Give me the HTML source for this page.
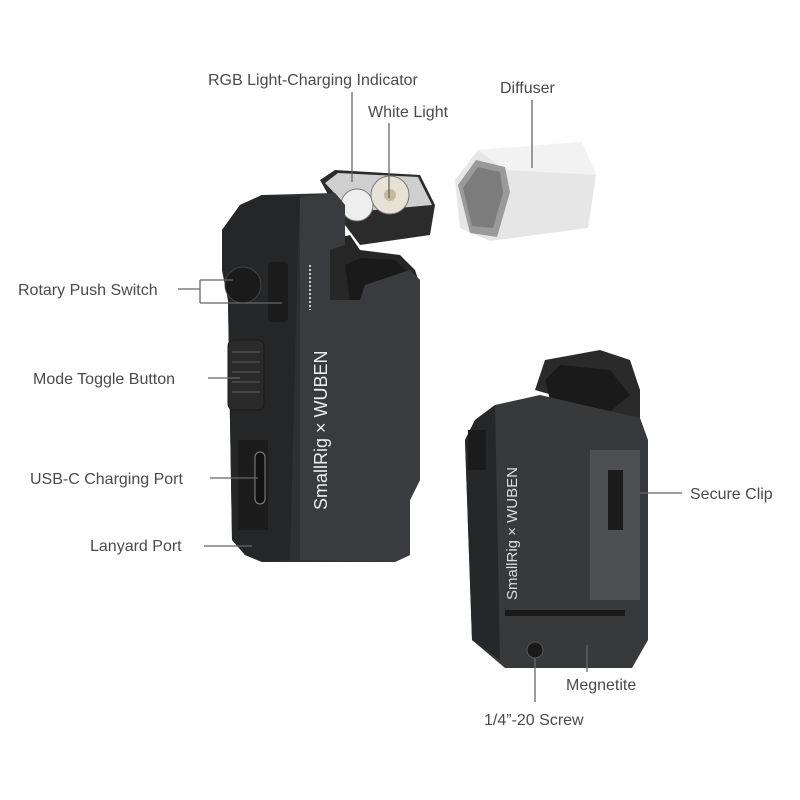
<!DOCTYPE html>
<html><head><meta charset="utf-8"><style>
body{margin:0;background:#fff;width:800px;height:800px;overflow:hidden}
svg{display:block}
text{font-family:"Liberation Sans",sans-serif;font-size:16px;fill:#4a4a4a}
</style></head><body>
<svg width="800" height="800" viewBox="0 0 800 800" xmlns="http://www.w3.org/2000/svg">
<rect width="800" height="800" fill="#fff"/>
<!-- Diffuser -->
<polygon points="455,180 478,150 582,142 596,175 588,228 490,241 460,228" fill="#e6e6e6"/>
<polygon points="478,150 582,142 596,175 505,170" fill="#f2f2f2"/>
<polygon points="458,185 476,160 505,167 510,192 497,237 470,233" fill="#9a9a9a"/>
<polygon points="463,188 478,167 500,172 503,193 493,228 472,226" fill="#7c7c7c"/>
<!-- Left device hinge area -->
<polygon points="330,240 350,235 360,250 400,255 415,270 420,285 365,290 360,300 330,300" fill="#262627"/>
<polygon points="345,265 360,258 395,260 410,275 410,300 350,300" fill="#1a1a1a"/>
<!-- Left device light head -->
<polygon points="320,180 335,170 420,175 435,205 430,235 360,245 345,225" fill="#2b2b2b"/>
<polygon points="325,183 338,173 418,177 432,205 352,212" fill="#cfcfcf"/>
<circle cx="357" cy="205" r="16" fill="#eee" stroke="#777"/>
<circle cx="390" cy="195" r="19" fill="#e8e2d6" stroke="#777"/>
<circle cx="390" cy="195" r="6" fill="#c9b79a"/>
<!-- Left device body -->
<polygon points="240,205 262,195 335,193 345,205 345,245 330,250 330,300 360,300 365,285 410,270 420,280 420,480 410,500 410,555 395,562 262,562 245,555 232,540 228,300 222,270 222,230" fill="#2f3032"/>
<polygon points="222,230 240,205 262,195 300,197 298,250 290,560 262,562 245,555 232,540 228,300 222,270" fill="#252628"/>
<polygon points="300,197 335,193 345,205 345,245 330,250 330,300 360,300 365,285 410,270 420,280 420,480 410,500 410,555 395,562 300,560" fill="#3a3b3e"/>
<circle cx="243" cy="285" r="18" fill="#1a1a1b" stroke="#444"/>
<rect x="268" y="262" width="20" height="60" rx="3" fill="#1b1b1c"/>
<rect x="228" y="340" width="36" height="70" rx="6" fill="#2a2a2b" stroke="#1a1a1a"/>
<g stroke="#444" stroke-width="2"><line x1="232" y1="352" x2="260" y2="352"/><line x1="232" y1="362" x2="260" y2="362"/><line x1="232" y1="372" x2="260" y2="372"/><line x1="232" y1="382" x2="260" y2="382"/><line x1="232" y1="392" x2="260" y2="392"/></g>
<rect x="238" y="440" width="30" height="90" fill="#1c1c1d"/>
<rect x="255" y="452" width="10" height="52" rx="5" fill="#111" stroke="#888"/>
<line x1="310" y1="265" x2="310" y2="310" stroke="#ccc" stroke-width="2" stroke-dasharray="2,2"/>
<text transform="translate(327,510) rotate(-90)" style="font-size:18px;fill:#eee">SmallRig × WUBEN</text>
<!-- Right device -->
<polygon points="535,390 545,360 600,350 630,360 640,390 640,420" fill="#2a2a2b"/>
<polygon points="545,380 560,365 610,370 630,395 600,420 555,420" fill="#1a1a1b"/>
<polygon points="475,420 495,405 540,395 640,418 648,440 648,640 632,668 505,668 472,640 465,440" fill="#38393b"/>
<polygon points="465,440 475,420 495,405 500,660 472,640" fill="#262728"/>
<rect x="590" y="450" width="50" height="150" fill="#4e4f52"/>
<rect x="608" y="470" width="15" height="60" fill="#1c1c1d"/>
<rect x="505" y="610" width="120" height="6" fill="#1a1a1a"/>
<rect x="468" y="430" width="18" height="40" fill="#1b1b1c"/>
<circle cx="535" cy="650" r="8" fill="#1a1a1a" stroke="#555"/>
<text transform="translate(517,600) rotate(-90)" style="font-size:15px;fill:#ddd">SmallRig × WUBEN</text>
<!-- Callout lines -->
<g stroke="#666" stroke-width="1.3" fill="none">
<line x1="352" y1="92" x2="352" y2="182"/>
<line x1="389" y1="123" x2="389" y2="198"/>
<line x1="532" y1="100" x2="532" y2="168"/>
<polyline points="178,289 200,289"/>
<line x1="200" y1="280" x2="200" y2="303"/>
<line x1="200" y1="280" x2="233" y2="280"/>
<line x1="200" y1="303" x2="282" y2="303"/>
<line x1="208" y1="378" x2="240" y2="378"/>
<line x1="210" y1="478" x2="258" y2="478"/>
<line x1="204" y1="546" x2="252" y2="546"/>
<line x1="640" y1="493" x2="682" y2="493"/>
<line x1="587" y1="645" x2="587" y2="672"/>
<line x1="535" y1="658" x2="535" y2="702"/>
</g>
<!-- Labels -->
<text x="208" y="85">RGB Light-Charging Indicator</text>
<text x="368" y="117">White Light</text>
<text x="500" y="93">Diffuser</text>
<text x="18" y="295">Rotary Push Switch</text>
<text x="33" y="384">Mode Toggle Button</text>
<text x="30" y="484">USB-C Charging Port</text>
<text x="90" y="551">Lanyard Port</text>
<text x="690" y="499">Secure Clip</text>
<text x="566" y="690">Megnetite</text>
<text x="484" y="725">1/4”-20 Screw</text>
</svg>
</body></html>
